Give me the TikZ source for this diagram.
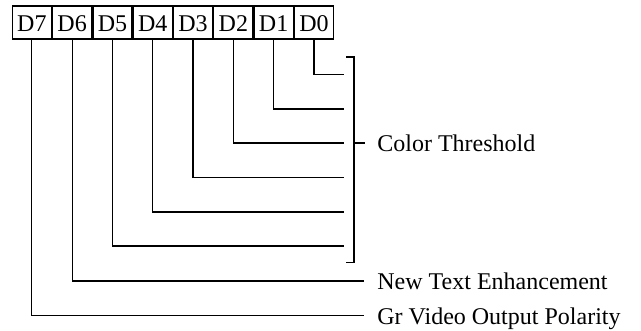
\documentclass[tikz,border=0pt]{standalone}
\usepackage{fontspec}
\setmainfont{Liberation Serif}
\usetikzlibrary{positioning}

\begin{document}
\begin{tikzpicture}[
    x=0.5pt, y=-0.5pt,
    bit/.style  = {draw, line width=0.6pt, minimum width=19.55pt, minimum height=16.5pt,
                   inner sep=0pt, text height=9.5pt, text depth=0pt,
                   font=\fontsize{12}{14}\selectfont},
    wire/.style = {line width=0.6pt},
    lbl/.style  = {anchor=base west, inner sep=0pt, font=\fontsize{12}{14}\selectfont},
  ]
    \useasboundingbox (0,0) rectangle (641,331);

    % --- register bits ---
    \node[bit] (b7) at (31.85, 22.5) {D7};
    \node[bit, right=0pt of b7] (b6) {D6};
    \node[bit, right=0pt of b6] (b5) {D5};
    \node[bit, right=0pt of b5] (b4) {D4};
    \node[bit, right=0pt of b4] (b3) {D3};
    \node[bit, right=0pt of b3] (b2) {D2};
    \node[bit, right=0pt of b2] (b1) {D1};
    \node[bit, right=0pt of b1] (b0) {D0};

    % --- wire ends ---
    \coordinate (e0) at (344, 74.5);
    \coordinate (e1) at (344, 109);
    \coordinate (e2) at (344, 143);
    \coordinate (e3) at (344, 177.5);
    \coordinate (e4) at (344, 212);
    \coordinate (e5) at (344, 246);
    \coordinate (e6) at (364, 281);
    \coordinate (e7) at (364, 315.5);

    \draw[wire] (b0.south) |- (e0);
    \draw[wire] (b1.south) |- (e1);
    \draw[wire] (b2.south) |- (e2);
    \draw[wire] (b3.south) |- (e3);
    \draw[wire] (b4.south) |- (e4);
    \draw[wire] (b5.south) |- (e5);
    \draw[wire] (b6.south) |- (e6);
    \draw[wire] (b7.south) |- (e7);

    % --- bracket for D5..D0 ---
    \coordinate (kt) at (354, 57);
    \coordinate (kb) at (354, 262.5);
    \coordinate (km) at (354, 143);
    \coordinate (kc) at (365, 143);
    \draw[wire] ([xshift=-4pt]kt) -- (kt) -- (kb) -- ([xshift=-4pt]kb);
    \draw[wire] (km) -- (kc);

    % --- labels ---
    \node[lbl] (ct) at (377, 151.5) {Color Threshold};
    \node[lbl] (nt) at (377, 289.5) {New Text Enhancement};
    \node[lbl] (gv) at (377, 324) {Gr Video Output Polarity};

  \end{tikzpicture}
\end{document}
